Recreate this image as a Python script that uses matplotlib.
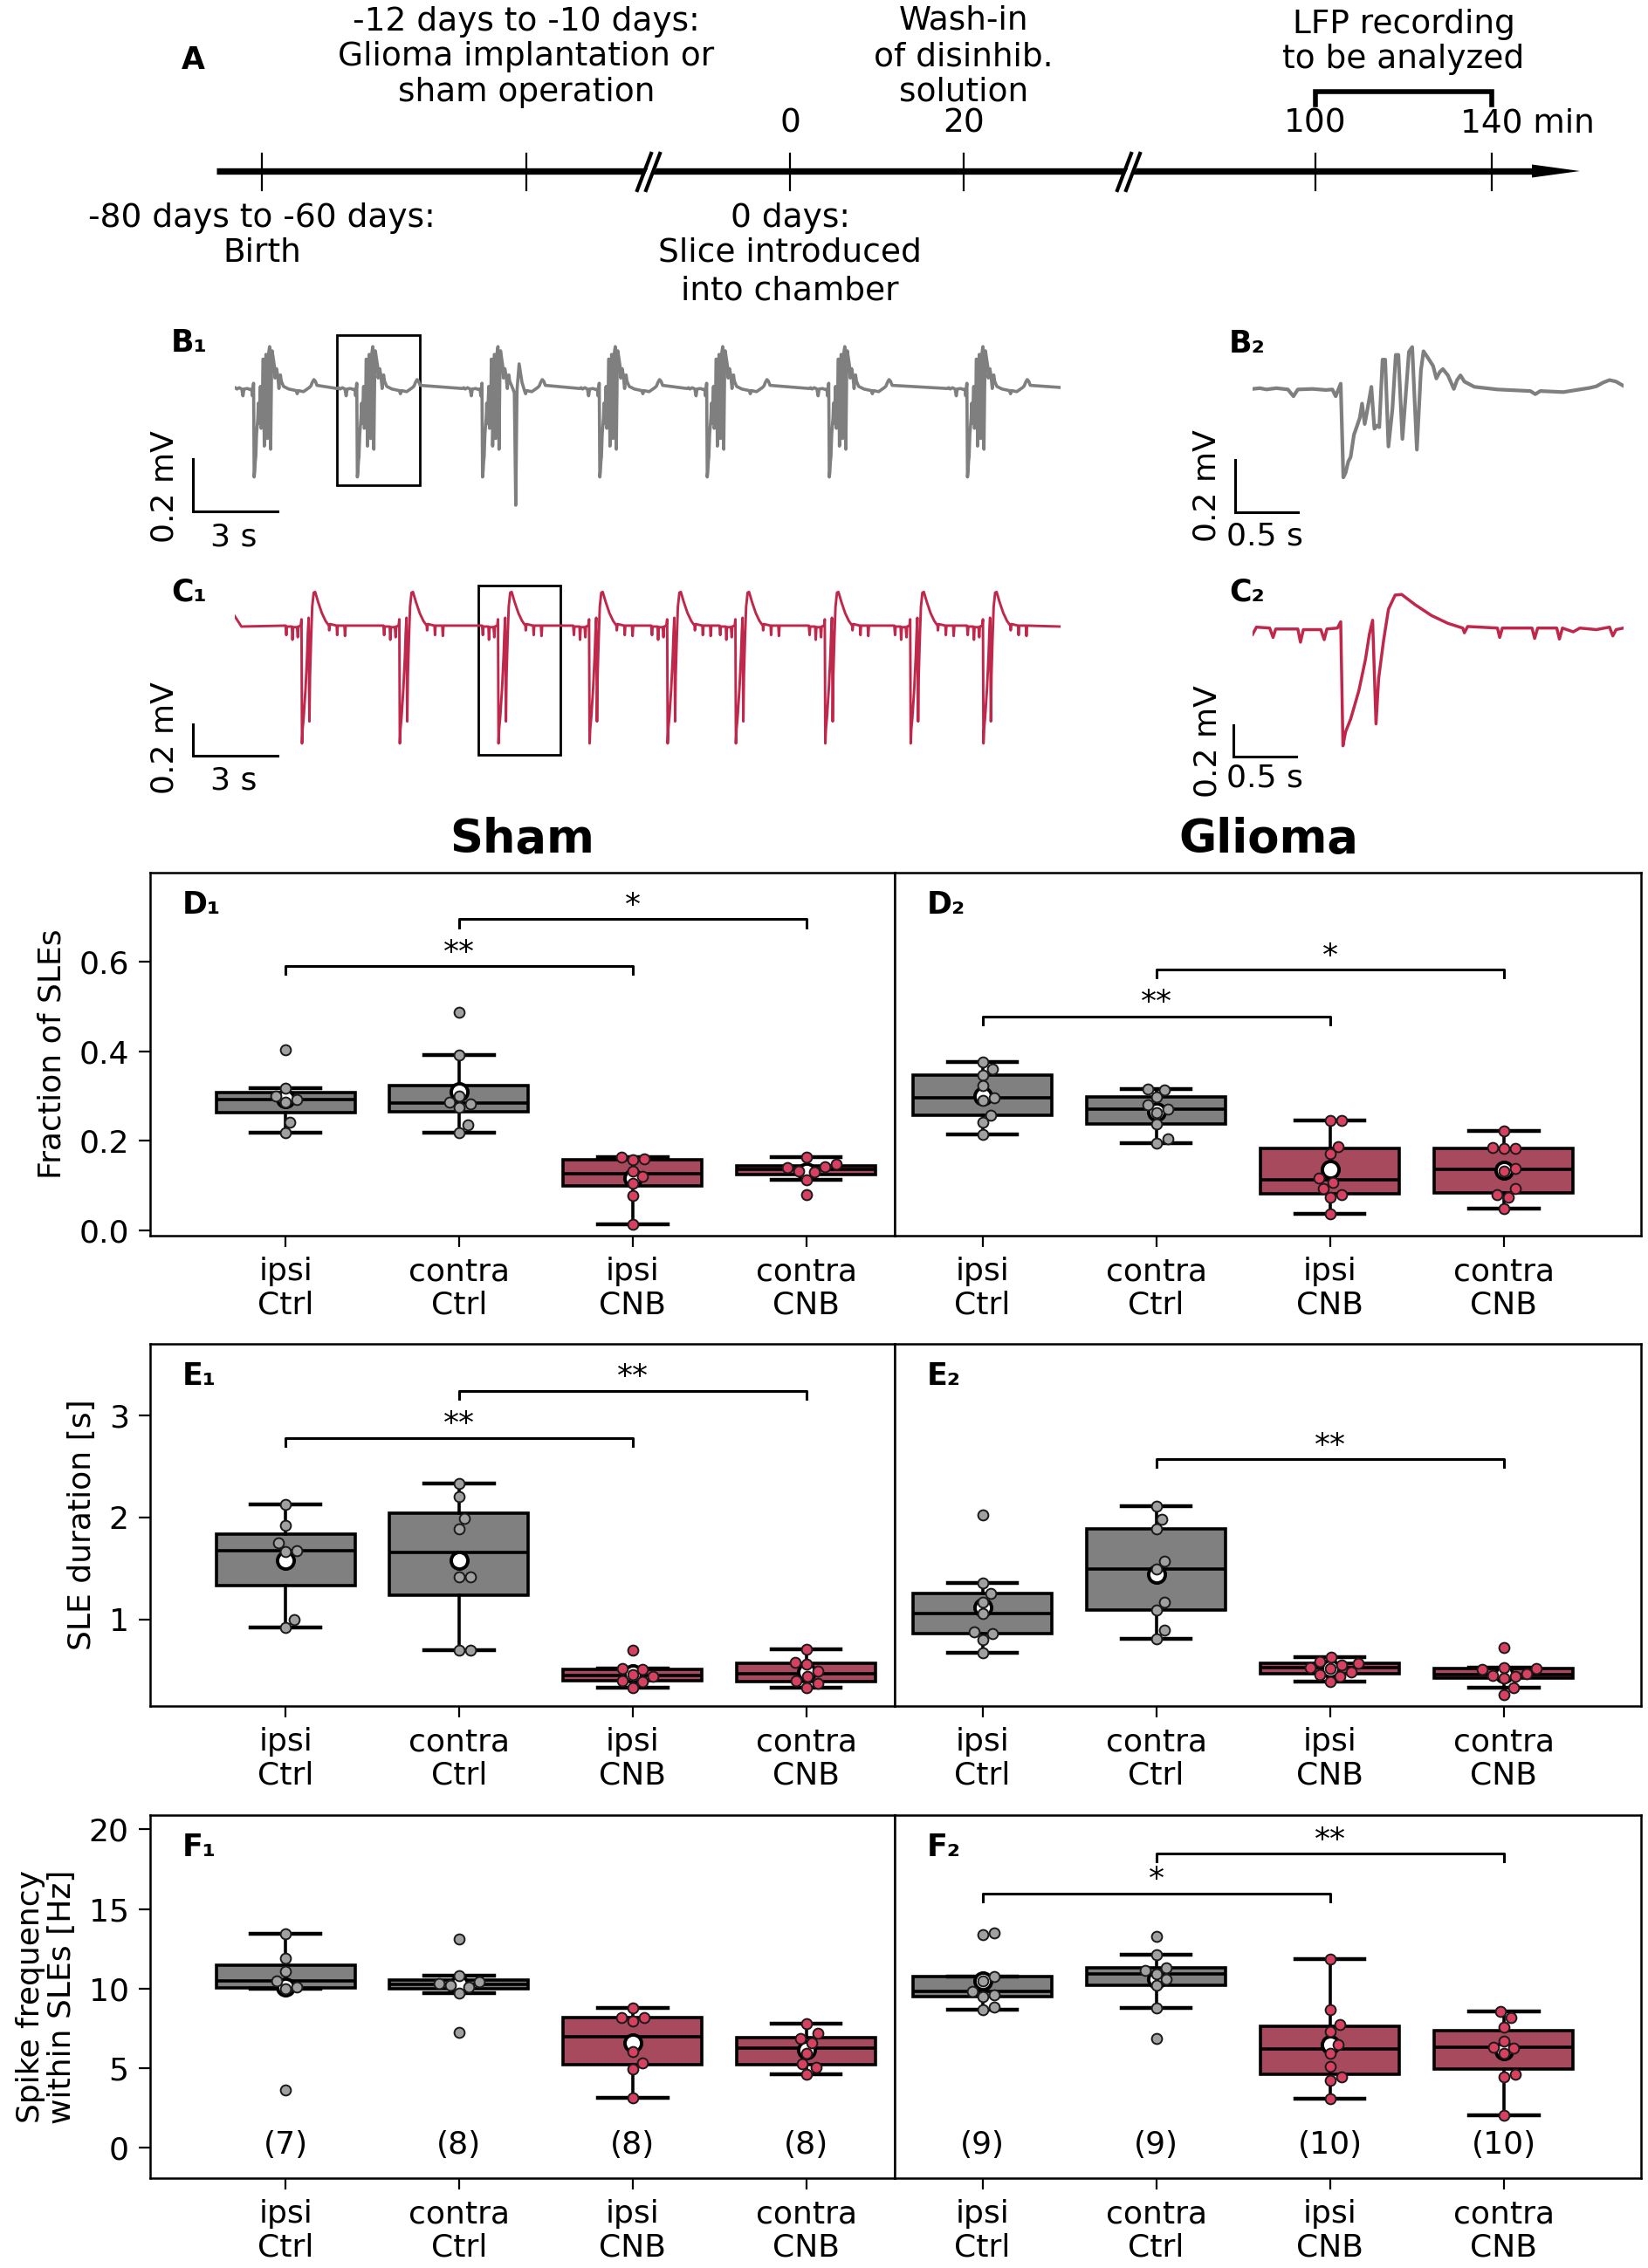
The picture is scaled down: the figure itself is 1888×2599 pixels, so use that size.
import numpy as np
import matplotlib.pyplot as plt
from matplotlib.patches import Rectangle

# ---------------- data ----------------
group_labels = ['ipsi\nCtrl', 'contra\nCtrl', 'ipsi\nCNB', 'contra\nCNB']

# D: fraction of SLEs
sham_frac = [[0.403, 0.318, 0.300, 0.292, 0.286, 0.242, 0.218],
             [0.487, 0.393, 0.300, 0.286, 0.282, 0.274, 0.236, 0.218],
             [0.163, 0.160, 0.158, 0.133, 0.121, 0.106, 0.077, 0.013],
             [0.163, 0.148, 0.143, 0.140, 0.133, 0.130, 0.112, 0.079]]
glioma_frac = [[0.376, 0.360, 0.348, 0.323, 0.296, 0.290, 0.258, 0.242, 0.215],
               [0.316, 0.314, 0.298, 0.281, 0.271, 0.264, 0.238, 0.204, 0.194],
               [0.246, 0.245, 0.188, 0.171, 0.116, 0.108, 0.093, 0.079, 0.073, 0.036],
               [0.223, 0.186, 0.183, 0.183, 0.139, 0.133, 0.093, 0.080, 0.073, 0.049]]

# E: SLE duration [s]
sham_dur = [[2.13, 1.92, 1.75, 1.67, 1.66, 1.00, 0.92],
            [2.33, 2.20, 1.99, 1.89, 1.42, 1.42, 0.70, 0.70],
            [0.70, 0.52, 0.51, 0.46, 0.44, 0.40, 0.39, 0.33],
            [0.71, 0.58, 0.56, 0.49, 0.44, 0.40, 0.37, 0.33]]
glioma_dur = [[2.02, 1.36, 1.25, 1.17, 1.06, 0.88, 0.86, 0.80, 0.67],
              [2.11, 1.98, 1.885, 1.57, 1.49, 1.17, 1.09, 0.89, 0.81],
              [0.63, 0.59, 0.57, 0.55, 0.53, 0.52, 0.48, 0.46, 0.44, 0.39],
              [0.72, 0.53, 0.52, 0.51, 0.47, 0.45, 0.44, 0.42, 0.33, 0.26]]

# F: spike frequency within SLEs [Hz]
sham_freq = [[13.43, 11.9, 11.1, 10.5, 10.1, 10.0, 3.65],
             [13.1, 10.83, 10.45, 10.3, 10.2, 10.1, 9.72, 7.28],
             [8.8, 8.2, 8.2, 7.96, 6.02, 5.31, 4.94, 3.15],
             [7.81, 7.22, 6.85, 6.6, 5.96, 5.28, 5.05, 4.63]]
glioma_freq = [[13.48, 13.37, 10.78, 10.5, 9.85, 9.6, 9.5, 8.83, 8.7],
               [13.28, 12.13, 11.33, 11.15, 10.93, 10.6, 10.22, 8.8, 6.85],
               [11.85, 8.7, 7.74, 7.31, 6.48, 5.96, 5.09, 4.48, 4.26, 3.09],
               [8.56, 8.19, 7.59, 6.72, 6.33, 6.26, 5.93, 4.63, 4.48, 2.07]]

# significance brackets: (group a, group b, bar height, label)
sig_D1 = [(0, 2, 0.591, '**'), (1, 3, 0.696, '*')]
sig_D2 = [(0, 2, 0.478, '**'), (1, 3, 0.583, '*')]
sig_E1 = [(0, 2, 2.78, '**'), (1, 3, 3.24, '**')]
sig_E2 = [(1, 3, 2.57, '**')]
sig_F1 = []
sig_F2 = [(0, 2, 15.98, '*'), (1, 3, 18.48, '**')]

# LFP traces: single SLE (time s, mV) read from B2 / C2
sle_gray_t = [0, 0.058, 0.110, 0.189, 0.281, 0.325, 0.360, 0.478, 0.583, 0.635, 0.661, 0.701, 0.722,
              0.740, 0.761, 0.780, 0.806, 0.832, 0.853, 0.871, 0.892, 0.911, 0.945, 0.969, 0.990, 1.008,
              1.034, 1.055, 1.081, 1.113, 1.139, 1.160, 1.192, 1.218, 1.244, 1.270, 1.307, 1.339, 1.360,
              1.396, 1.436, 1.462, 1.488, 1.514, 1.554, 1.601, 1.627, 1.654, 1.685, 1.764, 1.948, 2.210,
              2.249, 2.289, 2.472, 2.682, 2.735, 2.787, 2.840, 2.892, 2.950]
sle_gray_v = [-0.004, -0.001, -0.006, -0.001, -0.006, -0.032, -0.006, -0.004, -0.008, -0.006, -0.032, 0.016,
              -0.342, -0.324, -0.282, -0.264, -0.180, -0.144, -0.114, -0.060, -0.138, -0.090, 0.004, -0.156,
              -0.144, -0.150, 0.108, 0.108, -0.224, -0.078, 0.126, 0.126, -0.195, -0.030, 0.138, 0.156,
              -0.236, 0.066, 0.140, 0.114, 0.084, 0.036, 0.060, 0.072, 0.048, -0.004, 0.030, 0.048, 0.024,
              0.004, -0.006, -0.012, -0.024, -0.012, -0.016, 0.000, 0.006, 0.020, 0.030, 0.024, 0.008]
sle_red_t = [0, 0.031, 0.136, 0.163, 0.184, 0.360, 0.381, 0.404, 0.543, 0.570, 0.591, 0.675, 0.701, 0.719,
             0.740, 0.780, 0.845, 0.898, 0.929, 0.955, 0.982, 1.003, 1.042, 1.081, 1.134, 1.186, 1.291,
             1.423, 1.554, 1.672, 1.685, 1.711, 1.948, 1.966, 1.987, 2.223, 2.244, 2.268, 2.420, 2.441,
             2.465, 2.551, 2.604, 2.735, 2.840, 2.866, 2.892, 2.950]
sle_red_v = [-0.034, 0.012, 0.006, -0.054, 0.0, 0.0, -0.084, -0.004, -0.004, -0.068, 0.0, 0.006, 0.046,
             -0.744, -0.654, -0.574, -0.394, -0.194, -0.034, 0.056, -0.604, -0.314, -0.074, 0.126, 0.216,
             0.220, 0.156, 0.086, 0.036, 0.006, -0.024, 0.016, 0.006, -0.054, 0.006, 0.006, -0.060, 0.006,
             0.006, -0.064, 0.006, -0.018, 0.006, -0.004, 0.012, -0.044, -0.004, 0.006]
sle_trough_t = 0.72

# SLE onsets (time of the first trough) in the 30 s overview traces
gray_events = [0.70, 4.36, 8.80, 12.96, 16.77, 21.10, 26.00]
gray_extra_t = [9.93, 9.98, 10.02, 10.10, 10.20]
gray_extra_v = [-0.02, -0.45, -0.05, 0.09, 0.02]
red_events = [2.40, 5.87, 9.37, 12.60, 15.37, 17.79, 20.96, 23.99, 26.57]
overview_len = 29.3

# timeline (schematic positions)
tl_ticks = [3.00, 6.03, 9.05, 11.04, 15.07, 17.09]
tl_breaks = [7.45, 12.95]

# ---------------- figure ----------------
W, H = 1888, 2599
fig = plt.figure(figsize=(W / 100, H / 100), dpi=100)
plt.rcParams['font.family'] = 'DejaVu Sans'

gray_box, red_box = '#808080', '#A84A5D'
gray_pt, red_pt = '#A0A0A0', '#D7415F'
gray_trace, red_trace = '#7F7F7F', '#C0284B'
FS = 26
LFS = 25  # panel letters


def px_axes(left, top, width, height):
    return fig.add_axes([left / W, 1 - (top + height) / H, width / W, height / H])


# ---- A: timeline ----
ax = px_axes(0, 0, W, 370)
ax.set_xlim(0, W / 100)
ax.set_ylim(3.70, 0)
ax.axis('off')
ax.plot([2.48, 17.6], [1.96, 1.96], color='k', lw=5.3, solid_capstyle='butt')
ax.fill([17.55, 18.10, 17.55], [1.885, 1.96, 2.035], color='k', lw=0)
for x in tl_ticks:
    ax.plot([x, x], [1.76, 2.18], color='k', lw=1.6)
for c in tl_breaks:
    ax.fill([c - 0.12, c + 0.05, c + 0.13, c - 0.04], [2.12, 1.80, 1.80, 2.12], color='white', zorder=3)
    for dx in (0.0, 0.1):
        ax.plot([c - 0.15 + dx, c + 0.01 + dx], [2.18, 1.76], color='k', lw=3, zorder=4)
ax.plot([15.07, 15.07, 17.09, 17.09], [1.20, 1.05, 1.05, 1.20], color='k', lw=4, solid_joinstyle='miter')
tl_text = [(6.03, 0.25, '-12 days to -10 days:'), (6.03, 0.65, 'Glioma implantation or'),
           (6.03, 1.06, 'sham operation'), (11.04, 0.23, 'Wash-in'), (11.04, 0.65, 'of disinhib.'),
           (11.04, 1.06, 'solution'), (16.08, 0.28, 'LFP recording'), (16.08, 0.68, 'to be analyzed'),
           (9.05, 1.42, '0'), (11.04, 1.42, '20'), (15.07, 1.42, '100'),
           (3.00, 2.50, '-80 days to -60 days:'), (3.00, 2.90, 'Birth'),
           (9.05, 2.50, '0 days:'), (9.05, 2.90, 'Slice introduced'), (9.05, 3.33, 'into chamber')]
for x, y, s in tl_text:
    ax.text(x, y, s, ha='center', va='center', fontsize=27)
ax.text(16.73, 1.42, '140 min', ha='left', va='center', fontsize=27)
ax.text(2.21, 0.69, 'A', ha='center', va='center', fontsize=LFS, fontweight='bold')


# ---- B/C: LFP traces ----
def trace_axes(left, top, height, px_per_s, t_span, baseline, px_per_mv):
    a = px_axes(left, top, px_per_s * t_span, height)
    a.set_xlim(0, t_span)
    a.set_ylim(-(top + height - baseline) / px_per_mv, (baseline - top) / px_per_mv)
    a.axis('off')
    return a


def overview(tpl_t, tpl_v, events, window, start_t, start_v, extra_t=(), extra_v=()):
    ts, vs = list(start_t), list(start_v)
    for ev in events:
        for t, v in zip(tpl_t, tpl_v):
            rel = t - sle_trough_t
            if window[0] <= rel <= window[1] and ev + rel >= 0:
                ts.append(ev + rel)
                vs.append(v)
    ts += list(extra_t)
    vs += list(extra_v)
    ts.append(overview_len)
    vs.append(0.0)
    order = np.argsort(ts, kind='stable')
    return np.array(ts)[order], np.array(vs)[order]


def scale_bar(a, x0, y0, dx, dy, xlab, ylab, xl_pos, yl_pos):
    a.plot([x0, x0, x0 + dx], [y0 + dy, y0, y0], color='k', lw=2.2, clip_on=False,
           solid_joinstyle='miter')
    a.text(xl_pos[0], xl_pos[1], xlab, ha='center', va='center', fontsize=FS)
    a.text(yl_pos[0], yl_pos[1], ylab, ha='center', va='center', rotation=90, fontsize=FS)


axB1 = trace_axes(268.5, 370, 240, 32.3, overview_len, 444, 300)
bt, bv = overview(sle_gray_t, sle_gray_v, gray_events, (-0.75, 2.3), [0.0], [0.0], gray_extra_t, gray_extra_v)
axB1.plot(bt, bv, color=gray_trace, lw=2.6)
axB1.add_patch(Rectangle((3.64, -0.373), 2.94, 0.573, fill=False, ec='k', lw=2.0))
scale_bar(axB1, -1.47, -0.473, 3, 0.2, '3 s', '0.2 mV', (-0.02, -0.57), (-2.49, -0.377))

axC1 = trace_axes(268.5, 640, 240, 32.3, overview_len, 718, 180)
ct, cv = overview(sle_red_t, sle_red_v, red_events, (-0.6, 1.65), [0.0, 0.25], [0.07, 0.0])
axC1.plot(ct, cv, color=red_trace, lw=2.1)
axC1.add_patch(Rectangle((8.65, -0.817), 2.91, 1.077, fill=False, ec='k', lw=2.0))
scale_bar(axC1, -1.47, -0.822, 3, 0.2, '3 s', '0.2 mV', (-0.02, -0.983), (-2.49, -0.706))

axB2 = trace_axes(1435, 370, 240, 144, 2.95, 444.5, 300)
axB2.plot(sle_gray_t, sle_gray_v, color=gray_trace, lw=3.0)
scale_bar(axB2, -0.142, -0.475, 0.5, 0.2, '0.5 s', '0.2 mV', (0.097, -0.565), (-0.368, -0.375))

axC2 = trace_axes(1435, 640, 240, 144, 2.95, 720.8, 180)
axC2.plot(sle_red_t, sle_red_v, color=red_trace, lw=2.5)
scale_bar(axC2, -0.153, -0.812, 0.5, 0.2, '0.5 s', '0.2 mV', (0.097, -0.951), (-0.361, -0.718))

for x, y, s in [(196, 393, 'B₁'), (196, 678, 'C₁'), (1408, 394, 'B₂'), (1408, 678, 'C₂')]:
    fig.text(x / W, 1 - y / H, s, ha='left', va='center', fontsize=LFS, fontweight='bold')


# ---- D/E/F: box plots ----
def swarm_x(vals, ypx, xpx, d=13.0):
    ys = np.asarray(vals, float) * ypx
    xs = np.zeros(len(ys))
    cands = [0.0]
    for k in range(1, 60):
        cands += [k * d / 8, -k * d / 8]
    done = []
    for i in np.argsort(ys, kind='stable'):
        for c in cands:
            if all((c - xs[j]) ** 2 + (ys[i] - ys[j]) ** 2 >= d * d * 0.96 for j in done):
                xs[i] = c
                break
        done.append(i)
    return xs / xpx


def box_panel(left, top, width, height, xlim, ylim, groups, sig, drop, label, right):
    a = px_axes(left, top, width, height)
    a.set_xlim(*xlim)
    a.set_ylim(*ylim)
    bp = a.boxplot(groups, positions=range(4), widths=0.8, showfliers=False, patch_artist=True,
                   capwidths=0.4, whis=1.5,
                   boxprops=dict(lw=2.6, edgecolor='k'),
                   medianprops=dict(color='k', lw=2.6),
                   whiskerprops=dict(color='k', lw=2.6),
                   capprops=dict(color='k', lw=3.2))
    for i, patch in enumerate(bp['boxes']):
        patch.set_facecolor(gray_box if i < 2 else red_box)
    xpx = width / (xlim[1] - xlim[0])
    ypx = height / (ylim[1] - ylim[0])
    a.scatter(range(4), [np.mean(g) for g in groups], s=190, facecolor='white', edgecolor='k',
              lw=2.8, zorder=4)
    for i, g in enumerate(groups):
        off = swarm_x(g, ypx, xpx)
        a.scatter(i + off, g, s=72, facecolor=gray_pt if i < 2 else red_pt, edgecolor='#1a1a1a',
                  lw=1.4, zorder=5)
    for ga, gb, y, s in sig:
        a.plot([ga, ga, gb, gb], [y - drop, y, y, y - drop], color='k', lw=2.2)
        a.annotate(s, xy=((ga + gb) / 2, y), xytext=(0, 4), textcoords='offset points',
                   ha='center', va='baseline', fontsize=FS)
    a.set_xticks(range(4))
    a.set_xticklabels(group_labels)
    for t in a.get_xticklabels():
        t.set_linespacing(1.15)
    a.tick_params(labelsize=FS, length=9.5, width=1.6, pad=8)
    if right:
        a.tick_params(axis='y', left=False, labelleft=False)
    for sp in a.spines.values():
        sp.set_linewidth(1.8)
    a.text(37 / width, 1 - 20 / height, label, transform=a.transAxes, ha='left', va='top',
           fontsize=LFS, fontweight='bold')
    return a


LX = (-0.78, 3.51)
RX = (-0.505, 3.79)
axD1 = box_panel(172, 1000, 853, 416, LX, (-0.012, 0.80), sham_frac, sig_D1, 0.018, 'D₁', False)
axD2 = box_panel(1025, 1000, 855, 416, RX, (-0.012, 0.80), glioma_frac, sig_D2, 0.018, 'D₂', True)
axE1 = box_panel(172, 1540, 853, 415, LX, (0.15, 3.70), sham_dur, sig_E1, 0.08, 'E₁', False)
axE2 = box_panel(1025, 1540, 855, 415, RX, (0.15, 3.70), glioma_dur, sig_E2, 0.08, 'E₂', True)
axF1 = box_panel(172, 2080, 853, 416, LX, (-1.9, 20.9), sham_freq, sig_F1, 0.5, 'F₁', False)
axF2 = box_panel(1025, 2080, 855, 416, RX, (-1.9, 20.9), glioma_freq, sig_F2, 0.5, 'F₂', True)

axD1.set_yticks([0.0, 0.2, 0.4, 0.6])
axE1.set_yticks([1, 2, 3])
axF1.set_yticks([0, 5, 10, 15, 20])
axD1.set_ylabel('Fraction of SLEs', fontsize=FS, labelpad=10)
axE1.set_ylabel('SLE duration [s]', fontsize=FS, labelpad=10)
axF1.set_ylabel('Spike frequency\nwithin SLEs [Hz]', fontsize=FS, labelpad=10, linespacing=1.05)

for a, groups in [(axF1, sham_freq), (axF2, glioma_freq)]:
    for i, g in enumerate(groups):
        a.text(i, 0.2, '(%d)' % len(g), ha='center', va='center', fontsize=FS)

fig.text(598 / W, 1 - 962 / H, 'Sham', ha='center', va='center', fontsize=38, fontweight='bold')
fig.text(1453 / W, 1 - 962 / H, 'Glioma', ha='center', va='center', fontsize=38, fontweight='bold')

fig.savefig('out.png', dpi=100)
